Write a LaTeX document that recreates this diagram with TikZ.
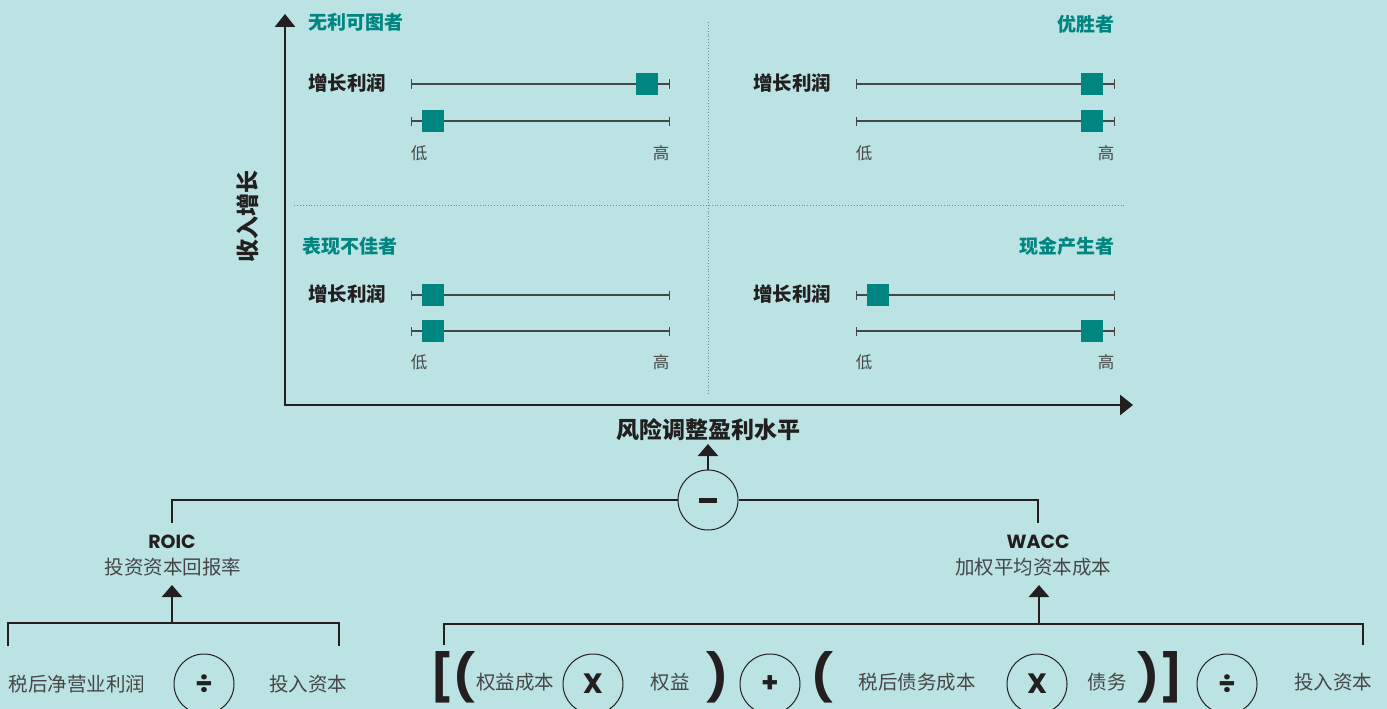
\documentclass[tikz,border=0pt]{standalone}
\usepackage{fontspec}
\setmainfont{Poppins}
\newfontfamily\cjk{Noto Sans CJK SC}
\usetikzlibrary{arrows.meta}
\definecolor{bg}{RGB}{187,227,227}
\definecolor{tealc}{RGB}{0,133,128}
\definecolor{darkc}{RGB}{35,31,32}
\definecolor{grayc}{RGB}{70,70,70}
\definecolor{dotc}{RGB}{120,135,135}
\tikzset{
  bar/.style={draw=grayc, line width=1.3pt, {Bar[width=9pt,line width=1.2pt]}-{Bar[width=9pt,line width=1.2pt]}},
  sq/.style={fill=tealc, minimum size=22pt, inner sep=0pt, outer sep=0pt},
  qtitle/.style={text=tealc, font=\cjk\bfseries\fontsize{19}{21}\selectfont, inner sep=0pt},
  glabel/.style={text=darkc, font=\cjk\bfseries\fontsize{19.5}{21}\selectfont, anchor=west, inner sep=0pt},
  lohi/.style={text=grayc, font=\cjk\fontsize{16.5}{18}\selectfont, inner sep=0pt},
  axislabel/.style={text=darkc, font=\cjk\bfseries\fontsize{23}{25}\selectfont, inner sep=0pt},
  term/.style={text=grayc, font=\cjk\fontsize{19.5}{21}\selectfont, inner sep=0pt},
  latin/.style={text=darkc, font=\bfseries\fontsize{19}{20}\selectfont, inner sep=0pt},
  op/.style={circle, draw=darkc, line width=1pt, minimum size=60pt, inner sep=0pt, text=darkc, font=\bfseries\fontsize{28}{28}\selectfont},
  paren/.style={text=darkc, font=\bfseries\fontsize{46}{46}\selectfont, inner sep=0pt},
  conn/.style={draw=darkc, line width=2pt},
  uparrow/.style={draw=darkc, line width=2.5pt, -{Triangle[width=20pt,length=12pt]}},
  dotline/.style={draw=dotc, line width=0.9pt, dotted},
}
\begin{document}
\begin{tikzpicture}[x=1pt,y=-1pt]
\useasboundingbox[fill=bg] (0,0) rectangle (1387,709);

% quadrant dividers
\coordinate (vtop) at (708,22);
\coordinate (vbot) at (708,395);
\coordinate (hleft) at (294,205);
\coordinate (hright) at (1124,205);
\draw[dotline] (vtop) -- (vbot);
\draw[dotline] (hleft) -- (hright);

% axes
\coordinate (ytip) at (285,14);
\coordinate (origin) at (285,405);
\coordinate (xtip) at (1133,405);
\draw[draw=darkc, line width=2.8pt, line join=miter, {Triangle[width=20pt,length=13pt]}-{Triangle[width=20pt,length=13pt]}] (ytip) -- (origin) -- (xtip);

\node[axislabel, rotate=90] (ylab) at (248,216) {收入增长};
\node[axislabel] (xlab) at (708,430) {风险调整盈利水平};

% ---- top-left
\node[qtitle, anchor=west] (t1) at (308,22) {无利可图者};
\node[glabel] (g1) at (308,83) {增长利润};
\coordinate (a1) at (411,84); \coordinate (b1) at (670,84);
\coordinate (c1) at (411,121); \coordinate (d1) at (670,121);
\draw[bar] (a1) -- (b1);
\draw[bar] (c1) -- (d1);
\node[sq] (s1) at (647,84) {};
\node[sq] (s2) at (433,121) {};
\node[lohi] (lo1) at (419,153) {低};
\node[lohi] (hi1) at (661,153) {高};

% ---- top-right
\node[qtitle, anchor=east] (t2) at (1115,24) {优胜者};
\node[glabel] (g2) at (753,83) {增长利润};
\coordinate (a2) at (856,84); \coordinate (b2) at (1115,84);
\coordinate (c2) at (856,121); \coordinate (d2) at (1115,121);
\draw[bar] (a2) -- (b2);
\draw[bar] (c2) -- (d2);
\node[sq] (s3) at (1092,84) {};
\node[sq] (s4) at (1092,121) {};
\node[lohi] (lo2) at (864,153) {低};
\node[lohi] (hi2) at (1106,153) {高};

% ---- bottom-left
\node[qtitle, anchor=west] (t3) at (302,246) {表现不佳者};
\node[glabel] (g3) at (308,294) {增长利润};
\coordinate (a3) at (411,295); \coordinate (b3) at (670,295);
\coordinate (c3) at (411,331); \coordinate (d3) at (670,331);
\draw[bar] (a3) -- (b3);
\draw[bar] (c3) -- (d3);
\node[sq] (s5) at (433,295) {};
\node[sq] (s6) at (433,331) {};
\node[lohi] (lo3) at (419,362) {低};
\node[lohi] (hi3) at (661,362) {高};

% ---- bottom-right
\node[qtitle, anchor=east] (t4) at (1115,246) {现金产生者};
\node[glabel] (g4) at (753,294) {增长利润};
\coordinate (a4) at (856,295); \coordinate (b4) at (1115,295);
\coordinate (c4) at (856,331); \coordinate (d4) at (1115,331);
\draw[bar] (a4) -- (b4);
\draw[bar] (c4) -- (d4);
\node[sq] (s7) at (878,295) {};
\node[sq] (s8) at (1092,331) {};
\node[lohi] (lo4) at (864,362) {低};
\node[lohi] (hi4) at (1106,362) {高};

% ---- minus node
\node[op] (minus) at (708,500) {\rule{18pt}{5pt}};
\coordinate (xlabtip) at (708,444);
\draw[uparrow] (minus.north) -- (xlabtip);
\coordinate (lend) at (172,523);
\coordinate (rend) at (1038,523);
\draw[conn] (minus.west) -| (lend);
\draw[conn] (minus.east) -| (rend);

% ---- ROIC
\node[latin] (roic) at (172,542) {ROIC};
\node[term] (roicz) at (173,567) {投资资本回报率};
\coordinate (roictip) at (172,585);
\coordinate (lb1) at (8,646);
\coordinate (lb2) at (339,646);
\coordinate (lbm) at (172,623);
\draw[conn] (lb1) |- (lb2 |- lbm) -- (lb2);
\draw[uparrow] (lbm) -- (roictip);
\node[term] (nopat) at (77,684) {税后净营业利润};
\node[op] (div1) at (204,684) {÷};
\node[term] (ic1) at (308,684) {投入资本};

% ---- WACC
\node[latin] (wacc) at (1038,542) {WACC};
\node[term] (waccz) at (1033,567) {加权平均资本成本};
\coordinate (wacctip) at (1039,585);
\coordinate (rb1) at (444,645);
\coordinate (rb2) at (1363,645);
\coordinate (rbm) at (1039,624);
\draw[conn] (rb1) |- (rb2 |- rbm) -- (rb2);
\draw[uparrow] (rbm) -- (wacctip);

\node[paren] (p1) at (453,677) {[(};
\node[term] (ke) at (515,682) {权益成本};
\node[op] (x1) at (593,684) {X};
\node[term] (eq) at (670,682) {权益};
\node[paren] (p2) at (717,677) {)};
\node[op] (plus) at (770,684) {+};
\node[paren] (p3) at (822,677) {(};
\node[term] (kd) at (917,682) {税后债务成本};
\node[op] (x2) at (1037,684) {X};
\node[term] (debt) at (1107,682) {债务};
\node[paren] (p4) at (1160,677) {)]};
\node[op] (div2) at (1227,684) {÷};
\node[term] (ic2) at (1333,682) {投入资本};
\end{tikzpicture}
\end{document}
